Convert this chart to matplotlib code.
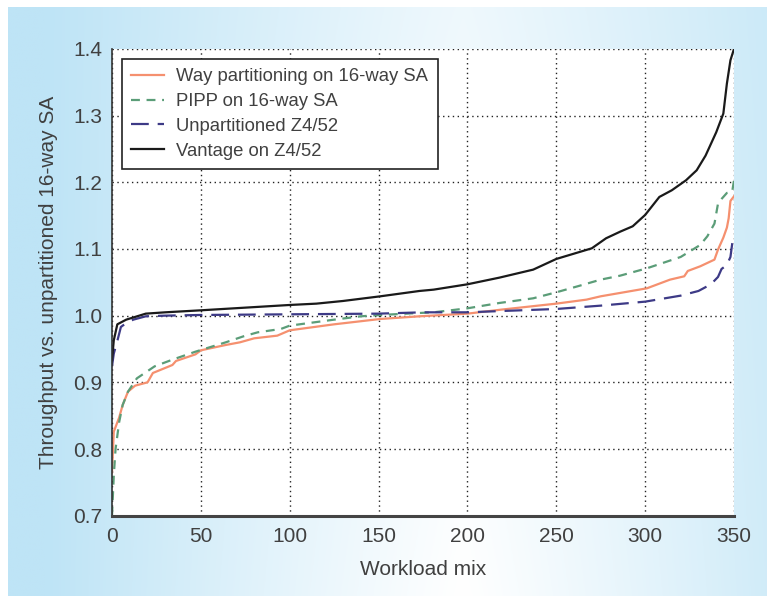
import numpy as np
import matplotlib
matplotlib.use("Agg")
import matplotlib.pyplot as plt

# data (workload index, normalized throughput)
way_x = [0, 1, 4, 6, 9, 13, 20, 23, 34, 36, 47, 50, 64, 72, 80, 93, 100, 125, 151, 173,
         200, 219, 250, 267, 275, 301, 314, 322, 324, 331, 339, 341, 344, 346, 347, 348, 350]
way_y = [0.765, 0.826, 0.847, 0.866, 0.886, 0.895, 0.900, 0.914, 0.926, 0.932, 0.942, 0.948,
         0.956, 0.960, 0.966, 0.970, 0.978, 0.987, 0.995, 0.999, 1.003, 1.009, 1.018, 1.024,
         1.029, 1.041, 1.054, 1.059, 1.067, 1.074, 1.084, 1.099, 1.117, 1.132, 1.146, 1.172, 1.179]

pipp_x = [0, 1, 2, 4, 6, 9, 14, 24, 34, 47, 64, 74, 82, 95, 100, 125, 140, 151, 173, 181,
          200, 218, 237, 250, 262, 275, 286, 301, 320, 331, 335, 339, 341, 343, 346, 349, 350]
pipp_y = [0.700, 0.760, 0.800, 0.840, 0.866, 0.886, 0.906, 0.924, 0.934, 0.946, 0.960, 0.969,
          0.975, 0.980, 0.985, 0.994, 0.999, 1.001, 1.004, 1.005, 1.011, 1.019, 1.026, 1.035,
          1.044, 1.054, 1.060, 1.071, 1.088, 1.106, 1.119, 1.138, 1.168, 1.175, 1.184, 1.186, 1.203]

unpart_x = [0, 1, 3, 5, 8, 12, 19, 30, 50, 100, 150, 175, 200, 220, 250, 275, 300, 320, 330,
            337, 341, 343, 346, 348, 349, 350]
unpart_y = [0.924, 0.943, 0.962, 0.983, 0.989, 0.994, 0.999, 1.000, 1.001, 1.002, 1.003, 1.005,
            1.005, 1.007, 1.010, 1.015, 1.021, 1.030, 1.037, 1.047, 1.058, 1.070, 1.076, 1.088,
            1.108, 1.119]

vant_x = [0, 1, 3, 8, 19, 30, 50, 75, 100, 115, 130, 151, 173, 181, 200, 218, 237, 250, 270,
          278, 286, 293, 300, 308, 315, 323, 329, 334, 340, 344, 346, 348, 350]
vant_y = [0.933, 0.963, 0.987, 0.994, 1.003, 1.005, 1.008, 1.012, 1.016, 1.018, 1.022, 1.029,
          1.037, 1.039, 1.047, 1.057, 1.069, 1.085, 1.101, 1.116, 1.126, 1.134, 1.151, 1.178,
          1.188, 1.203, 1.218, 1.240, 1.275, 1.303, 1.348, 1.383, 1.400]

x_ticks = [0, 50, 100, 150, 200, 250, 300, 350]
y_ticks = [0.7, 0.8, 0.9, 1.0, 1.1, 1.2, 1.3, 1.4]

text_col = "#404040"
plt.rcParams["font.family"] = ["Liberation Sans", "DejaVu Sans"]

fig = plt.figure(figsize=(7.75, 6.03), dpi=100)

# light blue gradient panel behind everything
bg = fig.add_axes([8 / 775, 7 / 603, 759 / 775, 589 / 603], zorder=-10)
gx = np.linspace(0, 1, 400)
gy = np.linspace(0, 1, 300)[:, None]
t = np.clip(np.abs(gx - 0.6) / 0.55, 0, 1) ** 1.1
t = np.clip(t + 0.25 * gy * (1 - t), 0, 1)
blue = np.array([190, 228, 246]) / 255
img = (1 - t[..., None]) * np.ones(3) + t[..., None] * blue
bg.imshow(img, aspect="auto", extent=[0, 1, 0, 1], origin="lower")
bg.axis("off")

ax = fig.add_axes([112 / 775, 1 - 515.7 / 603, 622 / 775, 466.8 / 603])
ax.set_facecolor("white")

ax.plot(way_x, way_y, color="#f5906f", lw=1.6, label="Way partitioning on 16-way SA")
ax.plot(pipp_x, pipp_y, color="#5b9d78", lw=1.6, dashes=(4, 3), label="PIPP on 16-way SA")
ax.plot(unpart_x, unpart_y, color="#3d3a86", lw=1.6, dashes=(8, 4), label="Unpartitioned Z4/52")
ax.plot(vant_x, vant_y, color="#1a1a1a", lw=1.6, label="Vantage on Z4/52")

ax.set_xlim(0, 350)
ax.set_ylim(0.7, 1.4)
ax.set_xticks(x_ticks)
ax.set_yticks(y_ticks)
ax.set_yticklabels([f"{v:.1f}" for v in y_ticks])
ax.tick_params(length=0, labelsize=15, labelcolor=text_col)
ax.tick_params(axis="x", pad=8)
ax.tick_params(axis="y", pad=7)
ax.grid(True, linestyle=(0, (1, 2.5)), color="#222222", lw=1.0)
ax.set_axisbelow(True)

for side in ["top", "right"]:
    ax.spines[side].set_visible(False)
ax.spines["left"].set_color("#333333")
ax.spines["left"].set_linewidth(1.2)
ax.spines["bottom"].set_color("#444444")
ax.spines["bottom"].set_linewidth(2.2)

ax.set_xlabel("Workload mix", fontsize=15, color=text_col, labelpad=10)
ax.set_ylabel("Throughput vs. unpartitioned 16-way SA", fontsize=15, color=text_col, labelpad=11)

leg = ax.legend(loc="upper left", bbox_to_anchor=(0.016, 0.978), borderaxespad=0,
                fontsize=13.3, frameon=True, fancybox=False, edgecolor="#222222",
                framealpha=1, handlelength=1.75, handletextpad=0.7, borderpad=0.5,
                labelspacing=0.42)
leg.get_frame().set_linewidth(1.2)
for txt in leg.get_texts():
    txt.set_color(text_col)

fig.savefig("out.png", dpi=100)
